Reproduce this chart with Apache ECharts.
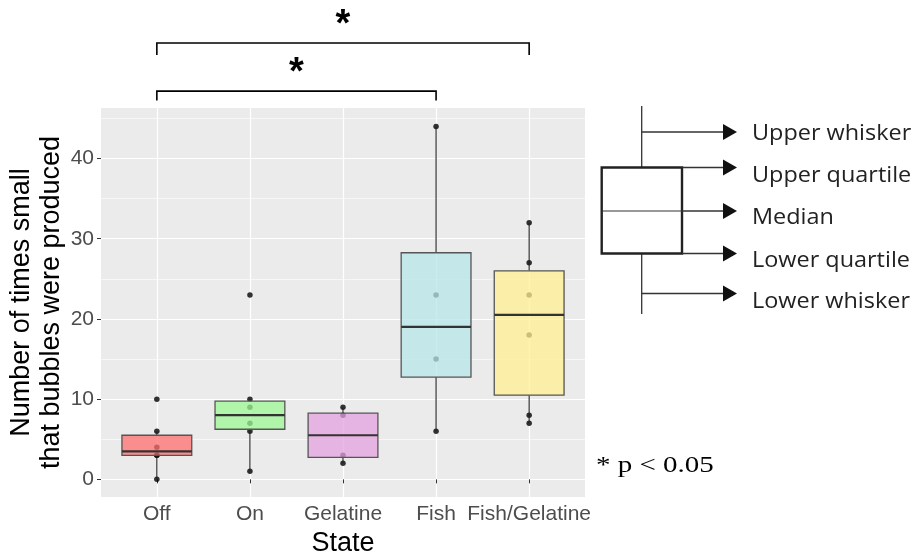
<!DOCTYPE html>
<html>
<head>
<meta charset="utf-8">
<script src="https://cdn.jsdelivr.net/npm/echarts@6/dist/echarts.min.js"></script>
<style>
  html, body { margin: 0; padding: 0; background: #ffffff; }
  #chart { width: 914px; height: 551px; }
</style>
</head>
<body>
<div id="chart"></div>
<script>
// Experimental states
const states = ['Off', 'On', 'Gelatine', 'Fish', 'Fish/Gelatine'];

// Five-number summaries per state: [lower whisker, Q1, median, Q3, upper whisker]
const boxOff          = [0, 3, 3.5, 5.5, 6];
const boxOn           = [1, 6.25, 8, 9.75, 10];
const boxGelatine     = [2, 2.75, 5.5, 8.25, 9];
const boxFish         = [6, 12.75, 19, 28.25, 44];
const boxFishGelatine = [7, 10.5, 20.5, 26, 32];

// Individual observations per state
const obsOff          = [0, 3, 3, 4, 6, 10];
const obsOn           = [1, 6, 7, 9, 10, 23];
const obsGelatine     = [2, 3, 8, 9];
const obsFish         = [6, 15, 23, 44];
const obsFishGelatine = [7, 8, 18, 23, 27, 32];

// Axis ticks
const yMajorTicks = [0, 10, 20, 30, 40];
const yMinorTicks = [5, 15, 25, 35, 45];

// Significant pairwise comparisons (state indices) and their marks
const comparisons = [[0, 3], [0, 4]];
const compLabels  = ['*', '*'];

// Box-plot guide labels
const guideLabels = ['Upper whisker', 'Upper quartile', 'Median', 'Lower quartile', 'Lower whisker'];
const noteText = '* p < 0.05';

const boxes = [boxOff, boxOn, boxGelatine, boxFish, boxFishGelatine];
const observations = [obsOff, obsOn, obsGelatine, obsFish, obsFishGelatine];

const fills = [
  'rgba(255,110,110,0.75)',
  'rgba(156,248,148,0.75)',
  'rgba(228,162,223,0.75)',
  'rgba(183,229,233,0.75)',
  'rgba(255,239,146,0.75)'
];

// Panel geometry (ggplot-like discrete expansion of 0.6 on each side)
const panelLeft = 101, panelTop = 108, panelW = 484, panelH = 389;
const band = panelW / (states.length + 0.2);
const yMin = -2.2, yMax = 46.3;

const boxData = boxes.map((b, i) => [i].concat(b));
const pointData = [];
observations.forEach((arr, i) => arr.forEach(v => pointData.push([i, v])));
const bracketLevels = [48.4, 54.4];
const bracketDrops = [1.15, 1.5];
const bracketData = comparisons.map((c, k) => [c[0], c[1], k]);

const chart = echarts.init(document.getElementById('chart'));

// Box-plot guide drawn at the right-hand side
const gx = 641.7, bxL = 601.7, bxR = 682, bxT = 167.5, bxB = 253.5, bxM = 211;
const arrowEnd = 723, arrowTip = 737;
const guideArrowY = [132, 167.5, 211, 253.5, 293.5];
const guideArrowX0 = [gx, bxR, bxR, bxR, gx];
const guideTextY = [134, 176, 218, 261, 302];
const guide = [];
guide.push({ type: 'line', shape: { x1: gx, y1: 106, x2: gx, y2: bxT }, style: { stroke: '#333', lineWidth: 1.3 } });
guide.push({ type: 'line', shape: { x1: gx, y1: bxB, x2: gx, y2: 314 }, style: { stroke: '#333', lineWidth: 1.3 } });
guide.push({ type: 'rect', shape: { x: bxL, y: bxT, width: bxR - bxL, height: bxB - bxT }, style: { fill: 'none', stroke: '#222', lineWidth: 2.4 } });
guide.push({ type: 'line', shape: { x1: bxL, y1: bxM, x2: bxR, y2: bxM }, style: { stroke: '#333', lineWidth: 1.2 } });
guideLabels.forEach((t, k) => {
  const y = guideArrowY[k];
  guide.push({ type: 'line', shape: { x1: guideArrowX0[k], y1: y, x2: arrowEnd, y2: y }, style: { stroke: '#333', lineWidth: 1.3 } });
  guide.push({ type: 'polygon', shape: { points: [[arrowEnd, y - 8], [arrowTip, y], [arrowEnd, y + 8]] }, style: { fill: '#111' } });
  guide.push({ type: 'text', x: 752, y: guideTextY[k], scaleX: 1.09, style: { text: t, font: '21.5px "Open Sans"', fill: '#222', textVerticalAlign: 'middle', textAlign: 'left' } });
});
guide.push({ type: 'text', x: 596, y: 466, scaleX: 1.26, style: { text: noteText, font: '23px "Liberation Serif"', fill: '#000', textVerticalAlign: 'middle', textAlign: 'left' } });

const option = {
  animation: false,
  backgroundColor: '#ffffff',
  textStyle: { fontFamily: '"Liberation Sans", Arial, sans-serif' },
  grid: [
    { left: panelLeft, top: panelTop, width: panelW, height: panelH, show: true, backgroundColor: '#EBEBEB', borderWidth: 0,
      containLabel: false, outerBoundsMode: 'none' },
    { left: panelLeft + 0.1 * band, top: panelTop, width: band * states.length, height: panelH,
      containLabel: false, outerBoundsMode: 'none' }
  ],
  xAxis: [
    {
      type: 'value', gridIndex: 0, min: 0.4, max: states.length + 0.6,
      name: 'State', nameLocation: 'middle', nameGap: 30,
      nameTextStyle: { fontSize: 27, color: '#000' },
      axisLine: { show: false },
      axisTick: { show: true, length: 4, lineStyle: { color: '#333', width: 1 }, customValues: [1, 2, 3, 4, 5] },
      axisLabel: { show: true, fontSize: 21, color: '#4D4D4D', margin: 7, customValues: [1, 2, 3, 4, 5],
                   formatter: v => states[Math.round(v) - 1] || '' },
      splitLine: { show: true, lineStyle: { color: '#ffffff', width: 1.2 } }
    },
    {
      type: 'category', gridIndex: 1, data: states, boundaryGap: true,
      axisLine: { show: false }, axisTick: { show: false }, axisLabel: { show: false }, splitLine: { show: false }
    }
  ],
  yAxis: [
    {
      type: 'value', gridIndex: 0, min: yMin, max: yMax,
      name: 'Number of times small\nthat bubbles were produced', nameLocation: 'middle', nameGap: 34,
      nameMoveOverlap: false,
      nameTextStyle: { fontSize: 27, color: '#000', lineHeight: 30 },
      axisLine: { show: false },
      axisTick: { show: true, length: 4, lineStyle: { color: '#333', width: 1 }, customValues: yMajorTicks },
      axisLabel: { show: true, fontSize: 21, color: '#4D4D4D', margin: 7, customValues: yMajorTicks },
      splitLine: { show: true, lineStyle: { color: '#ffffff', width: 1.2 } }
    },
    {
      type: 'value', gridIndex: 0, min: yMin, max: yMax, position: 'left',
      axisLine: { show: false },
      axisTick: { show: false, customValues: yMinorTicks },
      axisLabel: { show: false },
      splitLine: { show: true, lineStyle: { color: '#ffffff', width: 0.6 } }
    },
    {
      type: 'value', gridIndex: 1, min: yMin, max: yMax,
      axisLine: { show: false }, axisTick: { show: false }, axisLabel: { show: false }, splitLine: { show: false }
    }
  ],
  graphic: guide,
  series: [
    {
      name: 'observations', type: 'scatter', xAxisIndex: 1, yAxisIndex: 2, z: 2,
      data: pointData, symbol: 'circle', symbolSize: 5.5,
      itemStyle: { color: '#000000' }, silent: true
    },
    {
      name: 'boxes', type: 'custom', xAxisIndex: 1, yAxisIndex: 2, z: 3,
      data: boxData,
      encode: { x: 0, y: [1, 2, 3, 4, 5] },
      renderItem: function (params, api) {
        const i = api.value(0);
        const lo = api.coord([i, api.value(1)]);
        const q1 = api.coord([i, api.value(2)]);
        const md = api.coord([i, api.value(3)]);
        const q3 = api.coord([i, api.value(4)]);
        const hi = api.coord([i, api.value(5)]);
        const half = api.size([1, 0])[0] * 0.75 / 2;
        const x = lo[0];
        return {
          type: 'group',
          children: [
            { type: 'line', shape: { x1: x, y1: lo[1], x2: x, y2: q1[1] }, style: { stroke: '#222', lineWidth: 1.1 } },
            { type: 'line', shape: { x1: x, y1: q3[1], x2: x, y2: hi[1] }, style: { stroke: '#222', lineWidth: 1.1 } },
            { type: 'rect', shape: { x: x - half, y: q3[1], width: 2 * half, height: q1[1] - q3[1] },
              style: { fill: fills[i], stroke: '#555', lineWidth: 1.3 } },
            { type: 'line', shape: { x1: x - half, y1: md[1], x2: x + half, y2: md[1] }, style: { stroke: '#333', lineWidth: 2.2 } }
          ]
        };
      }
    },
    {
      name: 'comparisons', type: 'custom', xAxisIndex: 1, yAxisIndex: 2, z: 4, clip: false,
      data: bracketData,
      renderItem: function (params, api) {
        const a = api.value(0), b = api.value(1), k = api.value(2);
        const level = bracketLevels[k];
        const p1 = api.coord([a, level]);
        const p2 = api.coord([b, level]);
        const dropPx = api.coord([a, level - bracketDrops[k]])[1] - p1[1];
        return {
          type: 'group',
          children: [
            { type: 'polyline', shape: { points: [[p1[0], p1[1] + dropPx], [p1[0], p1[1]], [p2[0], p2[1]], [p2[0], p2[1] + dropPx]] },
              style: { stroke: '#000', lineWidth: 1.6, fill: 'none' } },
            { type: 'text', x: (p1[0] + p2[0]) / 2, y: p1[1] - 37,
              style: { text: compLabels[k], font: 'bold 38px "Liberation Sans"', fill: '#000', textAlign: 'center', textVerticalAlign: 'top' } }
          ]
        };
      }
    }
  ]
};
chart.setOption(option);
</script>
</body>
</html>
